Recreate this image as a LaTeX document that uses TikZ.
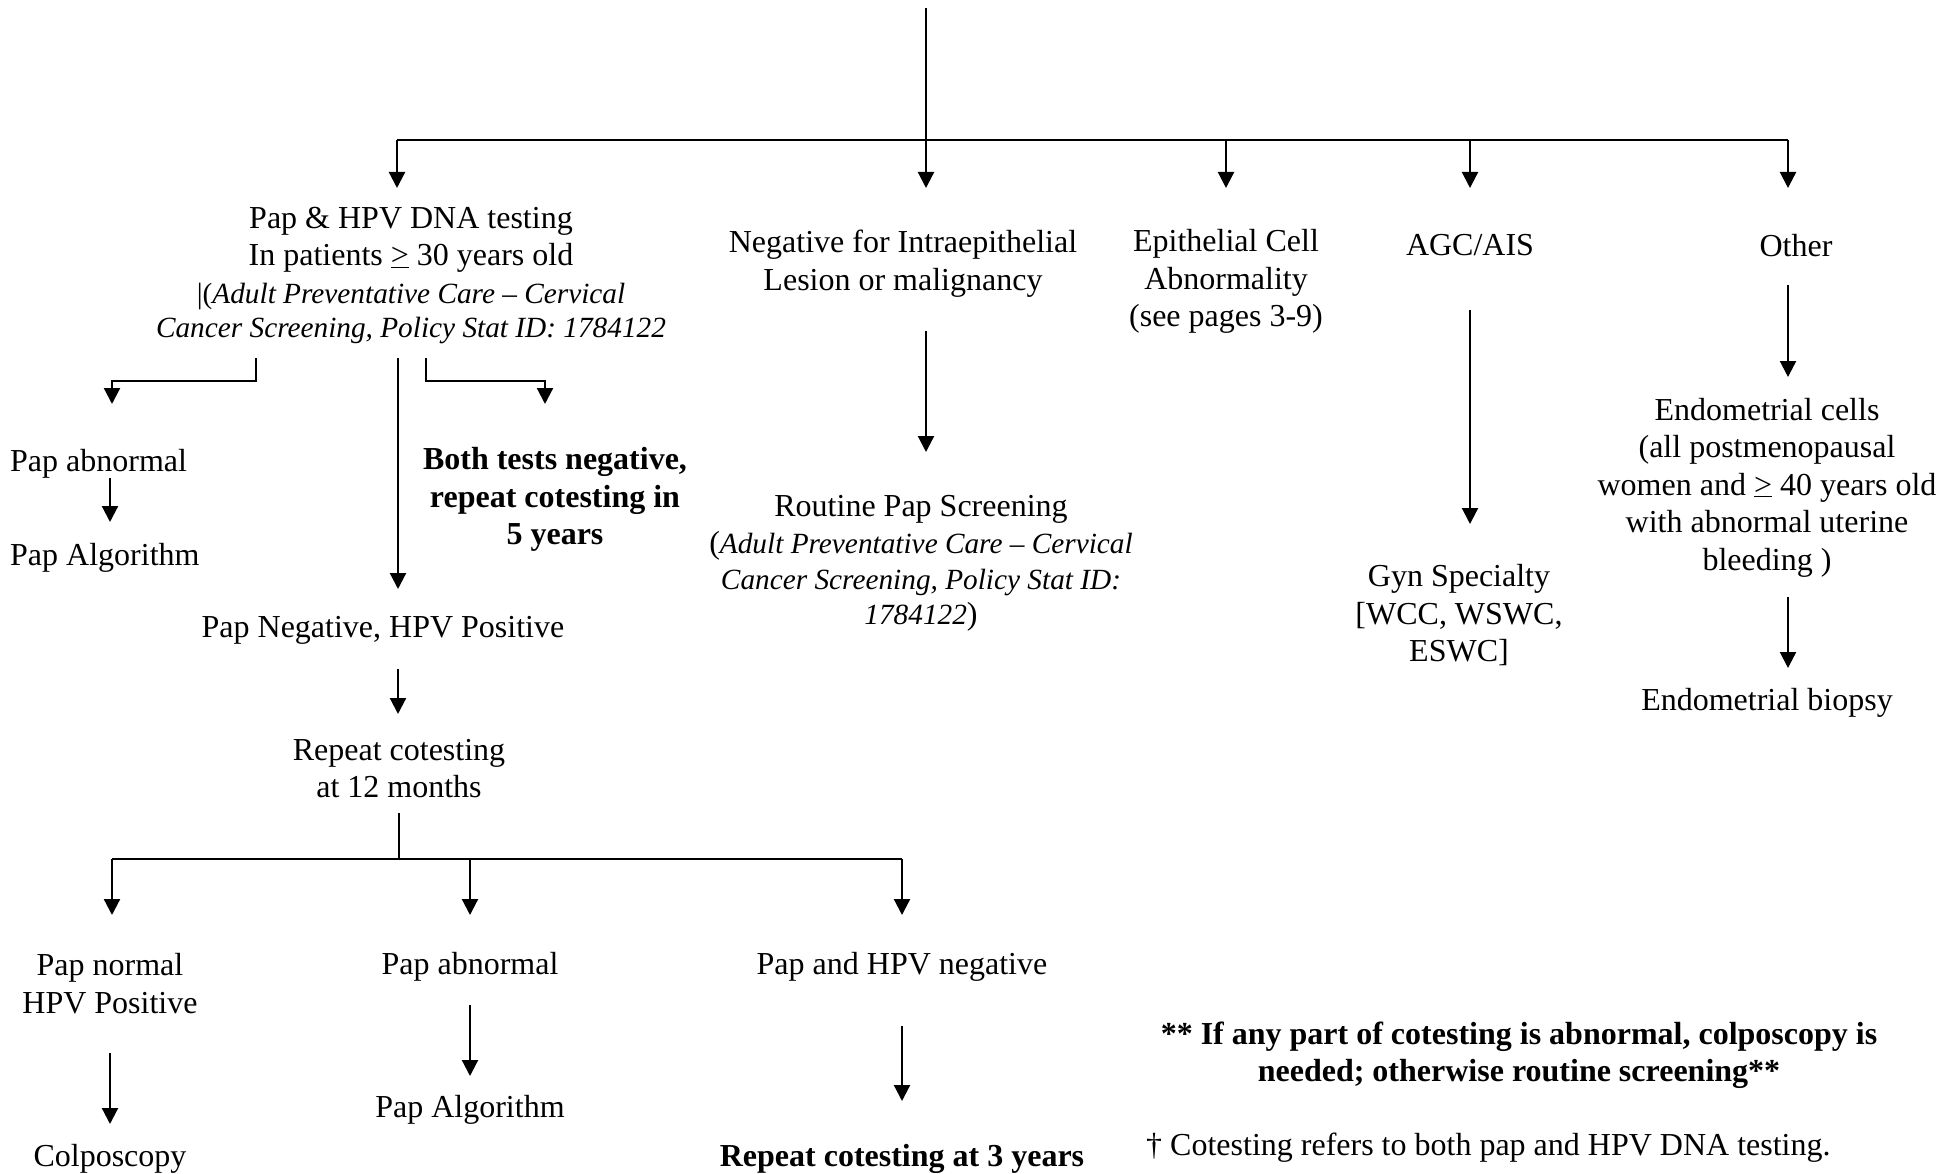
\documentclass[tikz,border=0pt]{standalone}
\usepackage{fontspec}
\setmainfont{Liberation Serif}
\usetikzlibrary{arrows.meta}
\begin{document}
\begin{tikzpicture}[x=1pt,y=-1pt,
  txt/.style={inner sep=0pt, align=center, yshift=-3.5pt, font=\fontsize{32}{37.5}\selectfont},
  bld/.style={txt, font=\fontsize{32}{37.5}\selectfont\bfseries},
  link/.style={line width=2.2pt},
  arr/.style={link, -{Triangle[length=16pt,width=16pt]}}]
\useasboundingbox (0,0) rectangle (1958,1174);
\newcommand{\smallit}[1]{{\fontsize{29.3}{33.7}\selectfont\itshape #1}}

% ---------- first level ----------
\coordinate (top) at (926,8);
\coordinate (j0) at (926,140);
\coordinate (jl) at (397,140);
\coordinate (jr) at (1788,140);
\coordinate (j3) at (1226,140);
\coordinate (j4) at (1470,140);
\coordinate (t1) at (397,188);
\coordinate (t2) at (926,188);
\coordinate (t3) at (1226,188);
\coordinate (t4) at (1470,188);
\coordinate (t5) at (1788,188);

\node[txt] (pap) at (411,272) {Pap \& HPV DNA testing\\In patients \underline{>} 30 years old\\
  \smallit{\upshape|(\itshape Adult Preventative Care – Cervical}\\[-3pt]
  \smallit{Cancer Screening, Policy Stat ID: 1784122}};
\node[txt] (neg) at (903,260) {Negative for Intraepithelial\\Lesion or malignancy};
\node[txt] (epi) at (1226,278) {Epithelial Cell\\Abnormality\\(see pages 3-9)};
\node[txt] (agc) at (1470,242) {AGC/AIS};
\node[txt] (other) at (1796,242) {Other};

\draw[link] (top) -- (j0);
\draw[link] (jl) -- (jr);
\draw[arr] (jl) -- (t1);
\draw[arr] (j0) -- (t2);
\draw[arr] (j3) -- (t3);
\draw[arr] (j4) -- (t4);
\draw[arr] (jr) -- (t5);

% ---------- Pap & HPV branch ----------
\coordinate (pl0) at (256,358);
\coordinate (pl1) at (256,381);
\coordinate (pl2) at (112,381);
\coordinate (pl3) at (112,404);
\coordinate (pm0) at (398,358);
\coordinate (pm1) at (398,589);
\coordinate (pr0) at (426,358);
\coordinate (pr1) at (426,381);
\coordinate (pr2) at (545,381);
\coordinate (pr3) at (545,404);
\draw[arr] (pl0) -- (pl1) -- (pl2) -- (pl3);
\draw[arr] (pm0) -- (pm1);
\draw[arr] (pr0) -- (pr1) -- (pr2) -- (pr3);

\node[txt, anchor=west] (papabn) at (10,460) {Pap abnormal};
\node[txt, anchor=west] (papalg) at (10,554) {Pap Algorithm};
\coordinate (pa0) at (110,478);
\coordinate (pa1) at (110,522);
\draw[arr] (pa0) -- (pa1);

\node[bld] (both) at (555,496) {Both tests negative,\\repeat cotesting in\\5 years};

\node[txt] (papneg) at (383,627) {Pap Negative, HPV Positive};
\coordinate (pn0) at (398,669);
\coordinate (pn1) at (398,714);
\draw[arr] (pn0) -- (pn1);

\node[txt] (rep12) at (399,765) {Repeat cotesting\\at 12 months};
\coordinate (r0) at (399,813);
\coordinate (r1) at (399,859);
\coordinate (rl) at (112,859);
\coordinate (rm) at (470,859);
\coordinate (rr) at (902,859);
\draw[link] (r0) -- (r1);
\draw[link] (rl) -- (rr);
\coordinate (rt1) at (112,915);
\coordinate (rt2) at (470,915);
\coordinate (rt3) at (902,915);
\draw[arr] (rl) -- (rt1);
\draw[arr] (rm) -- (rt2);
\draw[arr] (rr) -- (rt3);

\node[txt] (pnhp) at (110,980) {Pap normal\\HPV Positive};
\coordinate (c0) at (110,1053);
\coordinate (c1) at (110,1124);
\draw[arr] (c0) -- (c1);
\node[txt] (colpo) at (110,1155) {Colposcopy};

\node[txt] (pabn2) at (470,963) {Pap abnormal};
\coordinate (a0) at (470,1005);
\coordinate (a1) at (470,1076);
\draw[arr] (a0) -- (a1);
\node[txt] (palg2) at (470,1106) {Pap Algorithm};

\node[txt] (phn) at (902,963) {Pap and HPV negative};
\coordinate (h0) at (902,1026);
\coordinate (h1) at (902,1101);
\draw[arr] (h0) -- (h1);
\node[bld] (rep3) at (902,1155) {Repeat cotesting at 3 years};

% ---------- negative branch ----------
\coordinate (n0) at (926,331);
\coordinate (n1) at (926,452);
\draw[arr] (n0) -- (n1);
\node[txt] (routine) at (921,560) {Routine Pap Screening\\
  (\smallit{Adult Preventative Care – Cervical}\\[-2pt]
  \smallit{Cancer Screening, Policy Stat ID:}\\[-2pt]
  \smallit{1784122})};

% ---------- AGC/AIS branch ----------
\coordinate (g0) at (1470,310);
\coordinate (g1) at (1470,524);
\draw[arr] (g0) -- (g1);
\node[txt] (gyn) at (1459,612) {Gyn Specialty\\{}[WCC, WSWC,\\ESWC]};

% ---------- other branch ----------
\coordinate (o0) at (1788,285);
\coordinate (o1) at (1788,377);
\draw[arr] (o0) -- (o1);
\node[txt] (endo) at (1767,484) {Endometrial cells\\(all postmenopausal\\women and \underline{>} 40 years old\\with abnormal uterine\\bleeding )};
\coordinate (e0) at (1788,597);
\coordinate (e1) at (1788,668);
\draw[arr] (e0) -- (e1);
\node[txt] (biopsy) at (1767,699) {Endometrial biopsy};

% ---------- notes ----------
\node[bld] (note) at (1519,1052) {** If any part of cotesting is abnormal, colposcopy is\\needed; otherwise routine screening**};
\node[txt, anchor=west] (dagger) at (1146,1144) {† Cotesting refers to both pap and HPV DNA testing.};
\end{tikzpicture}
\end{document}
